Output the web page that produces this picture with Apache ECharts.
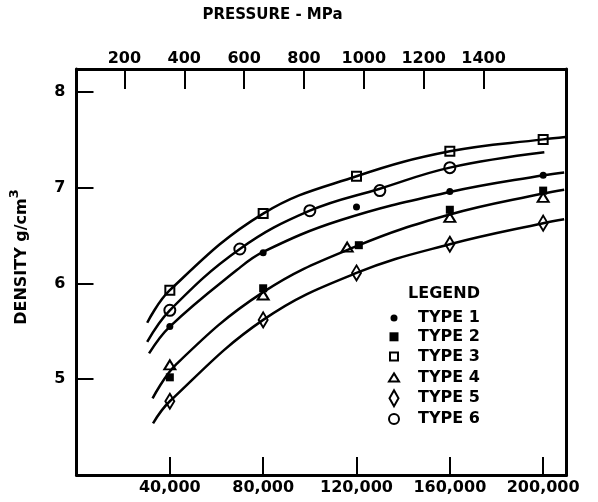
<!DOCTYPE html>
<html><head><meta charset="utf-8">
<script src="https://cdn.jsdelivr.net/npm/echarts@6/dist/echarts.min.js"></script>
<style>html,body{margin:0;padding:0;background:#fff}#c{width:598px;height:502px}</style>
</head><body><div id="c"></div>
<script>
// ---- tick labels ----
const psiTicks = [40000, 80000, 120000, 160000, 200000];
const mpaTicks = [200, 400, 600, 800, 1000, 1200, 1400];
const densityTicks = [5, 6, 7, 8];
const typeNames = ['TYPE 1', 'TYPE 2', 'TYPE 3', 'TYPE 4', 'TYPE 5', 'TYPE 6'];

// ---- measured points [psi, density g/cm3] ----
const type1 = [[40000, 5.55], [80000, 6.32], [120000, 6.80], [160000, 6.96], [200000, 7.13]];
const type2 = [[40000, 5.02], [80000, 5.95], [121000, 6.40], [160000, 6.77], [200000, 6.97]];
const type3 = [[40000, 5.93], [80000, 6.73], [120000, 7.12], [160000, 7.38], [200000, 7.505]];
const type4 = [[40000, 5.15], [80000, 5.88], [116000, 6.38], [160000, 6.69], [200000, 6.90]];
const type5 = [[40000, 4.77], [80000, 5.62], [120000, 6.11], [160000, 6.41], [200000, 6.63]];
const type6 = [[40000, 5.72], [70000, 6.36], [100000, 6.76], [130000, 6.97], [160000, 7.21]];

// ---- fitted curves ----
const curve3 = [[30300, 5.59], [40000, 5.93], [80000, 6.73], [120000, 7.12], [160000, 7.38], [200000, 7.505], [209500, 7.53]];
const curve6 = [[30300, 5.39], [40000, 5.72], [70000, 6.36], [100000, 6.76], [130000, 6.99], [160000, 7.21], [200500, 7.37]];
const curve1 = [[31100, 5.27], [40000, 5.55], [68700, 6.14], [80000, 6.33], [113000, 6.66], [160000, 6.955], [200000, 7.13], [209000, 7.16]];
const curve24 = [[32600, 4.80], [42900, 5.16], [80000, 5.91], [120000, 6.39], [160000, 6.72], [200000, 6.94], [209000, 6.98]];
const curve5 = [[32800, 4.54], [40000, 4.77], [80000, 5.62], [120000, 6.11], [160000, 6.41], [200000, 6.63], [209000, 6.67]];

const FONT = '"DejaVu Sans", sans-serif';
const chart = echarts.init(document.getElementById('c'), null, {renderer: 'canvas'});

function curve(data) {
  return {type: 'line', data: data, symbol: 'none', showSymbol: false, smooth: 0.4,
    lineStyle: {color: '#000', width: 2.5}, silent: true, animation: false};
}
const markerDefs = [
  {name: typeNames[0], data: type1, symbol: 'circle', size: 7, filled: true},
  {name: typeNames[1], data: type2, symbol: 'rect', size: 8, filled: true},
  {name: typeNames[2], data: type3, symbol: 'rect', size: 9, filled: false},
  {name: typeNames[3], data: type4, symbol: 'triangle', size: [11, 9], filled: false},
  {name: typeNames[4], data: type5, symbol: 'diamond', size: [9, 15], filled: false},
  {name: typeNames[5], data: type6, symbol: 'circle', size: 11, filled: false}
];
function grow(s, d) { return Array.isArray(s) ? [s[0] + d, s[1] + d] : s + d; }
const halos = markerDefs.map(m => ({type: 'scatter', name: m.name + ' halo', data: m.data, symbol: m.symbol,
  symbolSize: grow(m.size, 6), itemStyle: {color: '#fff', opacity: 1}, silent: true, animation: false}));
const markers = markerDefs.map(m => ({type: 'scatter', name: m.name, data: m.data, symbol: m.symbol,
  symbolSize: m.size, silent: true, animation: false,
  itemStyle: m.filled ? {color: '#000', opacity: 1} : {color: '#fff', borderColor: '#000', borderWidth: 2, opacity: 1}}));

const legendIcons = [
  'path://M0 0M12 18M6 5.5A3.5 3.5 0 1 1 6 12.5A3.5 3.5 0 1 1 6 5.5Z',
  'path://M0 0M12 18M1.5 4.5H10.5V13.5H1.5Z',
  'path://M0 0M12 18M2 5H10V13H2Z',
  'path://M0 0M12 18M6 5L11 13L1 13Z',
  'path://M0 0M12 18M6 1L10.5 9L6 17L1.5 9Z',
  'path://M0 0M12 18M6 4A5 5 0 1 1 6 14A5 5 0 1 1 6 4Z'
];

const axisFont = {fontFamily: FONT, fontWeight: 'bold', fontSize: 16, color: '#000'};
const option = {
  animation: false,
  backgroundColor: '#fff',
  grid: {left: 76.5, top: 69, width: 490, height: 406, containLabel: false},
  xAxis: [
    {type: 'value', position: 'bottom', min: 0, max: 210000,
      axisLine: {show: true, lineStyle: {color: '#000', width: 3}},
      axisTick: {show: true, inside: true, length: 18, lineStyle: {color: '#000', width: 2}, customValues: psiTicks},
      axisLabel: Object.assign({customValues: psiTicks, margin: 5, formatter: v => v.toLocaleString('en-US')}, axisFont),
      splitLine: {show: false}},
    {type: 'value', position: 'top', min: 40, max: 1677,
      axisLine: {show: true, lineStyle: {color: '#000', width: 3}},
      axisTick: {show: true, inside: true, length: 20, lineStyle: {color: '#000', width: 2}, customValues: mpaTicks},
      axisLabel: Object.assign({customValues: mpaTicks, margin: 2, formatter: v => String(v)}, axisFont),
      splitLine: {show: false}}
  ],
  yAxis: [
    {type: 'value', position: 'left', min: 4, max: 8.24,
      axisLine: {show: true, lineStyle: {color: '#000', width: 3}},
      axisTick: {show: true, inside: true, length: 17, lineStyle: {color: '#000', width: 2}, customValues: densityTicks},
      axisLabel: Object.assign({customValues: densityTicks, margin: 11}, axisFont),
      splitLine: {show: false}},
    {type: 'value', position: 'right', min: 4, max: 8.24,
      axisLine: {show: true, lineStyle: {color: '#000', width: 3}},
      axisTick: {show: false}, axisLabel: {show: false}, splitLine: {show: false}}
  ],
  legend: {
    orient: 'vertical', left: 387, top: 309, padding: 0, itemWidth: 12, itemHeight: 18, itemGap: 0.8,
    symbolKeepAspect: true, selectedMode: false,
    data: typeNames.map((n, i) => ({name: n, icon: legendIcons[i]})),
    formatter: '{t|{name}}',
    textStyle: {color: '#000', fontFamily: FONT, fontWeight: 'bold', fontSize: 16, lineHeight: 18,
      rich: {t: {padding: [0, 0, 0, 13], color: '#000', fontFamily: FONT, fontWeight: 'bold', fontSize: 16, lineHeight: 18}}}
  },
  graphic: [
    {type: 'text', x: 272.5, y: 15.5, style: {text: 'PRESSURE - MPa', font: 'bold 15px "DejaVu Sans"', fill: '#000', align: 'center', verticalAlign: 'middle'}},
    {type: 'text', x: 444, y: 293.5, style: {text: 'LEGEND', font: 'bold 16px "DejaVu Sans"', fill: '#000', align: 'center', verticalAlign: 'middle'}},
    {type: 'text', x: 19, y: 257, rotation: Math.PI / 2,
      style: {text: '{a|DENSITY g/cm}{b|3}', fill: '#000', align: 'center', verticalAlign: 'middle',
        rich: {a: {font: 'bold 16px "DejaVu Sans"', fill: '#000', verticalAlign: 'bottom', lineHeight: 22},
               b: {font: 'bold 13px "DejaVu Sans"', fill: '#000', verticalAlign: 'top', lineHeight: 22}}}}
  ],
  series: [curve(curve3), curve(curve6), curve(curve1), curve(curve24), curve(curve5)].concat(halos, markers)
};
chart.setOption(option);
</script></body></html>
